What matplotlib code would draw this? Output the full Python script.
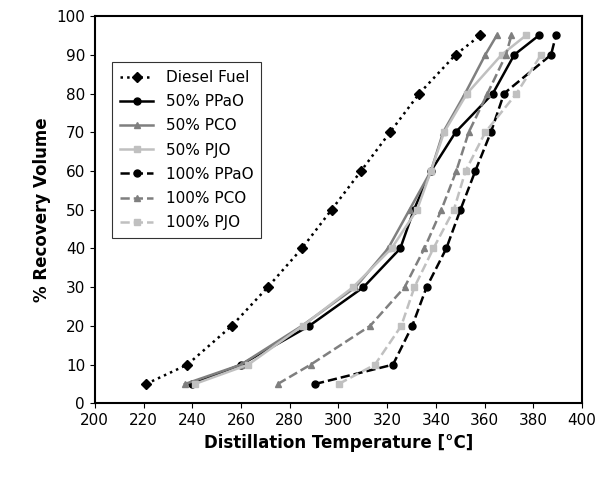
import matplotlib.pyplot as plt

recovery = [5, 10, 20, 30, 40, 50, 60, 70, 80, 90, 95]

diesel = [221, 238, 256.2, 271, 285, 297.2, 309.3, 321.2, 333.2, 348.1, 358.2]
ppao_50 = [240, 260, 288, 310.3, 325.4, 331, 338, 348.1, 363.4, 372.2, 382.3]
pco_50 = [237, 260, 285, 307, 320.4, 329.2, 338, 343, 352, 360.3, 365]
pjo_50 = [241, 263, 285.3, 306, 321.8, 332.3, 338, 343.4, 352.8, 367, 377]
ppao_100 = [290.4, 322.4, 330.3, 336.2, 344.3, 350.1, 356.2, 362.6, 368, 387.3, 389.3]
pco_100 = [275.1, 288.6, 313, 327.2, 335.3, 342.3, 348.4, 353.5, 361.2, 368.8, 371]
recovery_pjo100 = [5, 10, 20, 30, 40, 50, 60, 70, 80, 90]
pjo_100 = [300.1, 315, 325.8, 331.2, 339, 347.4, 352.2, 360.3, 373.1, 383.2]

fig, ax = plt.subplots(figsize=(6, 4.86), dpi=100)

ax.plot(diesel, recovery, ":", color="black", marker="D", ms=5, lw=1.8, label="Diesel Fuel")
ax.plot(ppao_50, recovery, "-", color="black", marker="o", ms=5, lw=1.8, label="50% PPaO")
ax.plot(pco_50, recovery, "-", color="#7f7f7f", marker="^", ms=5, lw=1.8, label="50% PCO")
ax.plot(pjo_50, recovery, "-", color="#c0c0c0", marker="s", ms=5, lw=1.8, label="50% PJO")
ax.plot(ppao_100, recovery, "--", color="black", marker="o", ms=5, lw=1.8, label="100% PPaO")
ax.plot(pco_100, recovery, "--", color="#7f7f7f", marker="^", ms=5, lw=1.8, label="100% PCO")
ax.plot(pjo_100, recovery_pjo100, "--", color="#c0c0c0", marker="s", ms=5, lw=1.8, label="100% PJO")

ax.set_xlim(200, 400)
ax.set_ylim(0, 100)
ax.set_xticks(range(200, 401, 20))
ax.set_yticks(range(0, 101, 10))
ax.tick_params(labelsize=11, direction="out")
ax.set_xlabel("Distillation Temperature [°C]", fontsize=12, fontweight="bold")
ax.set_ylabel("% Recovery Volume", fontsize=12, fontweight="bold")
for s in ax.spines.values():
    s.set_linewidth(1.5)

leg = ax.legend(loc="upper left", bbox_to_anchor=(0.02, 0.9), fontsize=11, fancybox=False,
                edgecolor="black", handlelength=2.2, borderpad=0.5, labelspacing=0.6)
leg.get_frame().set_linewidth(0.8)

fig.subplots_adjust(left=0.158, right=0.97, top=0.967, bottom=0.17)
fig.savefig("out.png")
